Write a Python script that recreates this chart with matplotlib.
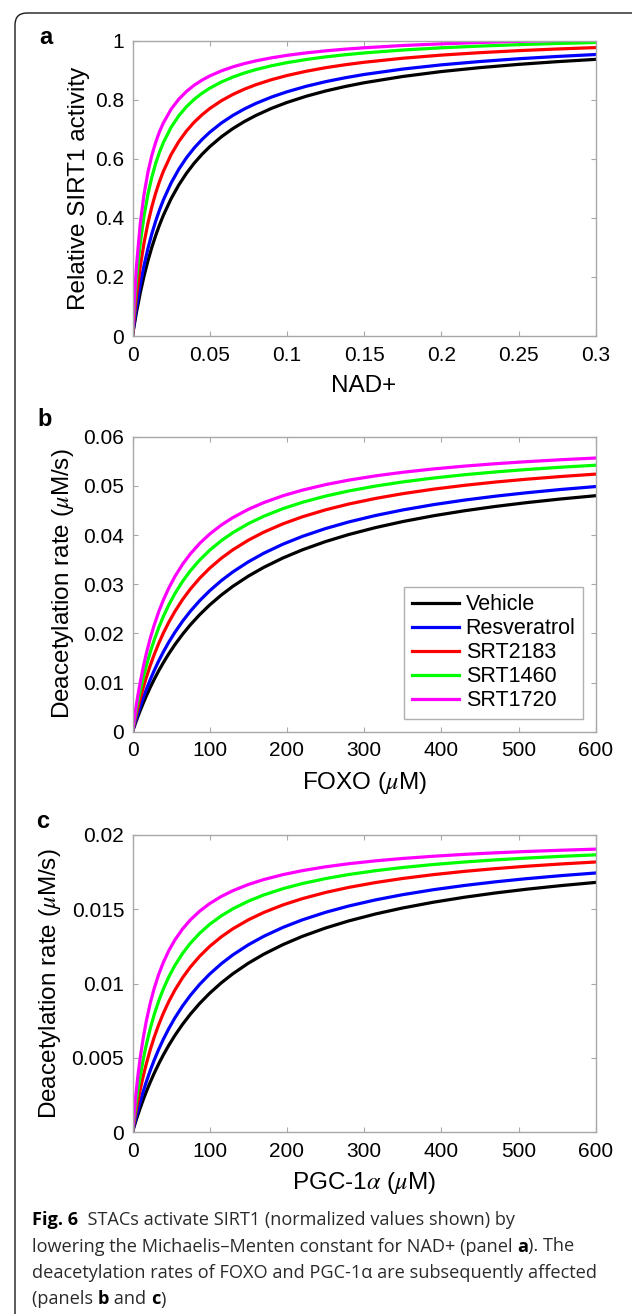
import matplotlib
matplotlib.use("Agg")
import matplotlib.pyplot as plt
from matplotlib import font_manager as fm
from matplotlib.patches import FancyBboxPatch
from matplotlib.transforms import IdentityTransform

# ---------------- data ----------------
series_names = ["Vehicle", "Resveratrol", "SRT2183", "SRT1460", "SRT1720"]
series_colors = ["#000000", "#0000ff", "#ff0000", "#00ff00", "#ff00ff"]

# panel a: relative SIRT1 activity vs NAD+
nad = [0, 0.001, 0.0025, 0.005, 0.0075, 0.01, 0.0125, 0.015, 0.0175, 0.02, 0.025, 0.03,
       0.035, 0.04, 0.045, 0.05, 0.0575, 0.065, 0.0725, 0.08, 0.09, 0.1, 0.1125, 0.125,
       0.1375, 0.15, 0.175, 0.2, 0.225, 0.25, 0.275, 0.3]
act_vehicle = [0, 0.0328, 0.0782, 0.1454, 0.2037, 0.2548, 0.3000, 0.3402, 0.3763, 0.4087,
               0.4649, 0.5117, 0.5514, 0.5855, 0.6151, 0.6410, 0.6743, 0.7024, 0.7264, 0.7471,
               0.7708, 0.7908, 0.8119, 0.8296, 0.8446, 0.8576, 0.8788, 0.8955, 0.9088, 0.9198,
               0.9290, 0.9368]
act_resveratrol = [0, 0.0400, 0.0945, 0.1732, 0.2396, 0.2966, 0.3458, 0.3889, 0.4270, 0.4607,
                   0.5181, 0.5650, 0.6040, 0.6370, 0.6653, 0.6898, 0.7210, 0.7470, 0.7690, 0.7878,
                   0.8091, 0.8269, 0.8456, 0.8612, 0.8743, 0.8856, 0.9039, 0.9182, 0.9295, 0.9389,
                   0.9466, 0.9532]
act_srt2183 = [0, 0.0573, 0.1323, 0.2345, 0.3159, 0.3822, 0.4373, 0.4838, 0.5235, 0.5578,
               0.6143, 0.6587, 0.6946, 0.7242, 0.7490, 0.7702, 0.7965, 0.8180, 0.8360, 0.8511,
               0.8680, 0.8820, 0.8965, 0.9085, 0.9184, 0.9269, 0.9406, 0.9512, 0.9595, 0.9663,
               0.9719, 0.9767]
act_srt1460 = [0, 0.0826, 0.1843, 0.3127, 0.4074, 0.4800, 0.5375, 0.5842, 0.6228, 0.6552,
               0.7068, 0.7460, 0.7768, 0.8016, 0.8220, 0.8390, 0.8600, 0.8769, 0.8907, 0.9023,
               0.9151, 0.9256, 0.9363, 0.9451, 0.9523, 0.9585, 0.9684, 0.9759, 0.9818, 0.9866,
               0.9906, 0.9939]
act_srt1720 = [0, 0.1075, 0.2324, 0.3794, 0.4807, 0.5548, 0.6114, 0.6559, 0.6920, 0.7217,
               0.7679, 0.8021, 0.8284, 0.8494, 0.8664, 0.8805, 0.8977, 0.9114, 0.9226, 0.9318,
               0.9420, 0.9503, 0.9587, 0.9656, 0.9713, 0.9760, 0.9837, 0.9894, 0.9940, 0.9977,
               1.0007, 1.0032]

# panels b and c: substrate concentration (uM)
subs = [0, 4, 7, 10, 14, 18, 23, 28, 34, 40, 47, 55, 65, 75, 87, 100, 115, 130, 150, 170,
        195, 220, 250, 280, 315, 350, 390, 430, 470, 510, 555, 600]

# panel b: FOXO deacetylation rate (uM/s)
foxo_vehicle = [0, 0.001798, 0.003076, 0.004296, 0.005842, 0.007301, 0.009014, 0.010614, 0.012402,
                0.014061, 0.015849, 0.017722, 0.019842, 0.02175, 0.023802, 0.025778, 0.027792,
                0.029569, 0.031636, 0.033424, 0.035344, 0.036986, 0.038667, 0.040099, 0.041523,
                0.042737, 0.043922, 0.044937, 0.045815, 0.046583, 0.047338, 0.048]
foxo_resveratrol = [0, 0.002167, 0.003689, 0.005132, 0.006941, 0.008631, 0.010594, 0.012409,
                    0.014413, 0.01625, 0.018209, 0.020236, 0.0225, 0.024511, 0.026647, 0.028676,
                    0.030719, 0.0325, 0.034547, 0.036296, 0.038152, 0.039722, 0.041314, 0.042656,
                    0.04398, 0.045099, 0.046184, 0.047107, 0.0479, 0.048591, 0.049268, 0.049858]
foxo_srt2183 = [0, 0.002888, 0.004875, 0.006727, 0.009009, 0.0111, 0.013481, 0.015638, 0.017971,
                0.020068, 0.022259, 0.024481, 0.026909, 0.02902, 0.031215, 0.033258, 0.035275,
                0.037, 0.038947, 0.040581, 0.042286, 0.043705, 0.045122, 0.046302, 0.04745,
                0.048411, 0.049333, 0.05011, 0.050774, 0.051347, 0.051905, 0.052389]
foxo_srt1460 = [0, 0.003624, 0.006067, 0.008306, 0.011016, 0.013455, 0.016181, 0.018604, 0.021179,
                0.023451, 0.025785, 0.028111, 0.030606, 0.032737, 0.034917, 0.036914, 0.038853,
                0.04049, 0.042311, 0.043819, 0.045374, 0.046652, 0.047917, 0.048959, 0.049965,
                0.050801, 0.051597, 0.052264, 0.052831, 0.053318, 0.053791, 0.054199]
foxo_srt1720 = [0, 0.004467, 0.007405, 0.01005, 0.013191, 0.015962, 0.018999, 0.021646, 0.024407,
                0.0268, 0.029218, 0.031586, 0.034083, 0.03618, 0.038293, 0.0402, 0.042027,
                0.04355, 0.045225, 0.046595, 0.047994, 0.049133, 0.05025, 0.051164, 0.05204,
                0.052763, 0.053448, 0.054019, 0.054502, 0.054916, 0.055317, 0.055662]

# panel c: PGC-1alpha deacetylation rate (uM/s)
pgc_vehicle = [0, 0.000678, 0.001157, 0.001613, 0.002188, 0.002727, 0.003358, 0.003944, 0.004595,
               0.005195, 0.005839, 0.006509, 0.007263, 0.007937, 0.008657, 0.009346, 0.010044,
               0.010656, 0.011364, 0.011972, 0.012621, 0.013174, 0.013736, 0.014213, 0.014685,
               0.015086, 0.015476, 0.015809, 0.016096, 0.016346, 0.016592, 0.016807]
pgc_resveratrol = [0, 0.00087, 0.001474, 0.002041, 0.002745, 0.003396, 0.004144, 0.004828,
                   0.005574, 0.00625, 0.006963, 0.007692, 0.008497, 0.009202, 0.009943, 0.010638,
                   0.01133, 0.011927, 0.012605, 0.013178, 0.013781, 0.014286, 0.014793, 0.015217,
                   0.015633, 0.015982, 0.016318, 0.016602, 0.016846, 0.017057, 0.017263, 0.017442]
pgc_srt2183 = [0, 0.00125, 0.00209, 0.002857, 0.003784, 0.004615, 0.005542, 0.006364, 0.007234,
               0.008, 0.008785, 0.009565, 0.0104, 0.011111, 0.011837, 0.0125, 0.013143, 0.013684,
               0.014286, 0.014783, 0.015294, 0.015714, 0.016129, 0.016471, 0.0168, 0.017073,
               0.017333, 0.017551, 0.017736, 0.017895, 0.018049, 0.018182]
pgc_srt1460 = [0, 0.001702, 0.0028, 0.003774, 0.004912, 0.005902, 0.00697, 0.007887, 0.008831,
               0.009639, 0.010444, 0.011224, 0.012037, 0.012712, 0.013385, 0.013986, 0.014557,
               0.015029, 0.015544, 0.015962, 0.016387, 0.01673, 0.017065, 0.017337, 0.017598,
               0.017812, 0.018014, 0.018182, 0.018324, 0.018445, 0.018562, 0.018663]
pgc_srt1720 = [0, 0.002353, 0.003784, 0.005, 0.006364, 0.0075, 0.008679, 0.009655, 0.010625,
               0.011429, 0.012208, 0.012941, 0.013684, 0.014286, 0.014872, 0.015385, 0.015862,
               0.01625, 0.016667, 0.017, 0.017333, 0.0176, 0.017857, 0.018065, 0.018261,
               0.018421, 0.018571, 0.018696, 0.0188, 0.018889, 0.018974, 0.019048]

# ticks
a_xticks = [0, 0.05, 0.1, 0.15, 0.2, 0.25, 0.3]
a_xticklabels = ["0", "0.05", "0.1", "0.15", "0.2", "0.25", "0.3"]
a_yticks = [0, 0.2, 0.4, 0.6, 0.8, 1.0]
a_yticklabels = ["0", "0.2", "0.4", "0.6", "0.8", "1"]
bc_xticks = [0, 100, 200, 300, 400, 500, 600]
bc_xticklabels = ["0", "100", "200", "300", "400", "500", "600"]
b_yticks = [0, 0.01, 0.02, 0.03, 0.04, 0.05, 0.06]
b_yticklabels = ["0", "0.01", "0.02", "0.03", "0.04", "0.05", "0.06"]
c_yticks = [0, 0.005, 0.01, 0.015, 0.02]
c_yticklabels = ["0", "0.005", "0.01", "0.015", "0.02"]

# ---------------- style ----------------
plt.rcParams["font.family"] = ["Liberation Sans", "DejaVu Sans"]
plt.rcParams["mathtext.fontset"] = "stix"

W, H = 632, 1314
fig = plt.figure(figsize=(W / 100, H / 100), dpi=100)


def px_axes(left, top, right, bottom):
    return fig.add_axes([left / W, 1 - bottom / H, (right - left) / W, (bottom - top) / H])


axA = px_axes(132.5, 40.7, 595.7, 336.0)
axB = px_axes(132.5, 436.7, 595.7, 731.7)
axC = px_axes(132.5, 835.0, 595.7, 1132.0)

spine_col = "#a8a8a8"
lw = 2.3

panelA = [act_vehicle, act_resveratrol, act_srt2183, act_srt1460, act_srt1720]
panelB = [foxo_vehicle, foxo_resveratrol, foxo_srt2183, foxo_srt1460, foxo_srt1720]
panelC = [pgc_vehicle, pgc_resveratrol, pgc_srt2183, pgc_srt1460, pgc_srt1720]

for ax, xs, ys_list in ((axA, nad, panelA), (axB, subs, panelB), (axC, subs, panelC)):
    for name, col, y in zip(series_names, series_colors, ys_list):
        ax.plot(xs, y, color=col, lw=lw, label=name, solid_joinstyle="round")

axA.set_xlim(0, 0.3); axA.set_ylim(0, 1)
axB.set_xlim(0, 600); axB.set_ylim(0, 0.06)
axC.set_xlim(0, 600); axC.set_ylim(0, 0.02)

axA.set_xticks(a_xticks, a_xticklabels); axA.set_yticks(a_yticks, a_yticklabels)
axB.set_xticks(bc_xticks, bc_xticklabels); axB.set_yticks(b_yticks, b_yticklabels)
axC.set_xticks(bc_xticks, bc_xticklabels); axC.set_yticks(c_yticks, c_yticklabels)

label_fs = 17.5
axA.set_xlabel("NAD+", fontsize=label_fs)
axA.set_ylabel("Relative SIRT1 activity", fontsize=label_fs)
axB.set_xlabel(r"FOXO ($\mu$M)", fontsize=label_fs)
axB.set_ylabel(r"Deacetylation rate ($\mu$M/s)", fontsize=label_fs)
axC.set_xlabel(r"PGC-1$\alpha$ ($\mu$M)", fontsize=label_fs)
axC.set_ylabel(r"Deacetylation rate ($\mu$M/s)", fontsize=label_fs)

label_pos = {
    axA: (-0.169, -0.115),
    axB: (-0.174, -0.150),
    axC: (-0.172, -0.178),
}
for ax in (axA, axB, axC):
    for s in ax.spines.values():
        s.set_color(spine_col)
        s.set_linewidth(1.0)
    ax.tick_params(direction="in", length=3.5, width=0.8, color=spine_col,
                   labelcolor="black", labelsize=15, top=True, right=True)
    ax.tick_params(axis="x", pad=7)
    ax.tick_params(axis="y", pad=6)
    xl, yl = label_pos[ax]
    ax.xaxis.label.set_va("center")
    ax.xaxis.set_label_coords(0.5, xl)
    ax.yaxis.label.set_va("center")
    ax.yaxis.set_label_coords(yl, 0.5)

leg = axB.legend(loc="lower right", bbox_to_anchor=(0.9726, 0.043), borderaxespad=0,
                 fontsize=15.5, frameon=True, fancybox=False, framealpha=1,
                 edgecolor="#b0b0b0", handlelength=2.2, handletextpad=0.3,
                 labelspacing=0.14, borderpad=0.35)
leg.get_frame().set_linewidth(1.0)

# panel letters
for letter, (x, y) in zip(["a", "b", "c"], [(46, 37), (45, 419), (43, 822)]):
    fig.text(x / W, 1 - y / H, letter, ha="center", va="center",
             fontsize=17, fontweight="bold")

# outer rounded frame (only top and left edges visible)
frame = FancyBboxPatch((15, -40), 700, (H - 13) + 40,
                       boxstyle="round,pad=0,rounding_size=12",
                       transform=IdentityTransform(), fill=False,
                       edgecolor="#1a1a1a", linewidth=1.0)
fig.patches.append(frame)

# ---------------- caption ----------------
names = {f.name for f in fm.fontManager.ttflist}
cap_family = "Liberation Sans Narrow" if "Liberation Sans Narrow" in names else "Open Sans"
renderer = fig.canvas.get_renderer()


def width_of(s, fp):
    w1 = renderer.get_text_width_height_descent("|" + s + "|", fp, ismath=False)[0]
    w0 = renderer.get_text_width_height_descent("||", fp, ismath=False)[0]
    return w1 - w0


ref_line = "deacetylation rates of FOXO and PGC-1\u03b1 are subsequently affected"
fp10 = fm.FontProperties(family=cap_family, size=10)
cap_size = 10 * 566.0 / width_of(ref_line, fp10)

cap_lines = [
    [("Fig. 6", "bold"), ("  STACs activate SIRT1 (normalized values shown) by", "normal")],
    [("lowering the Michaelis\u2013Menten constant for NAD+ (panel ", "normal"), ("a", "bold"),
     ("). The", "normal")],
    [(ref_line, "normal")],
    [("(panels ", "normal"), ("b", "bold"), (" and ", "normal"), ("c", "bold"), (")", "normal")],
]
baselines = [1225, 1251.5, 1278, 1304.5]
for runs, yb in zip(cap_lines, baselines):
    x = 31.5
    for txt, wt in runs:
        fp = fm.FontProperties(family=cap_family, size=cap_size, weight=wt)
        col = "#000000" if wt == "bold" else "#2a2a2a"
        fig.text(x / W, 1 - yb / H, txt, fontproperties=fp, ha="left", va="baseline", color=col)
        x += width_of(txt, fp)

fig.savefig("out.png", dpi=100)
